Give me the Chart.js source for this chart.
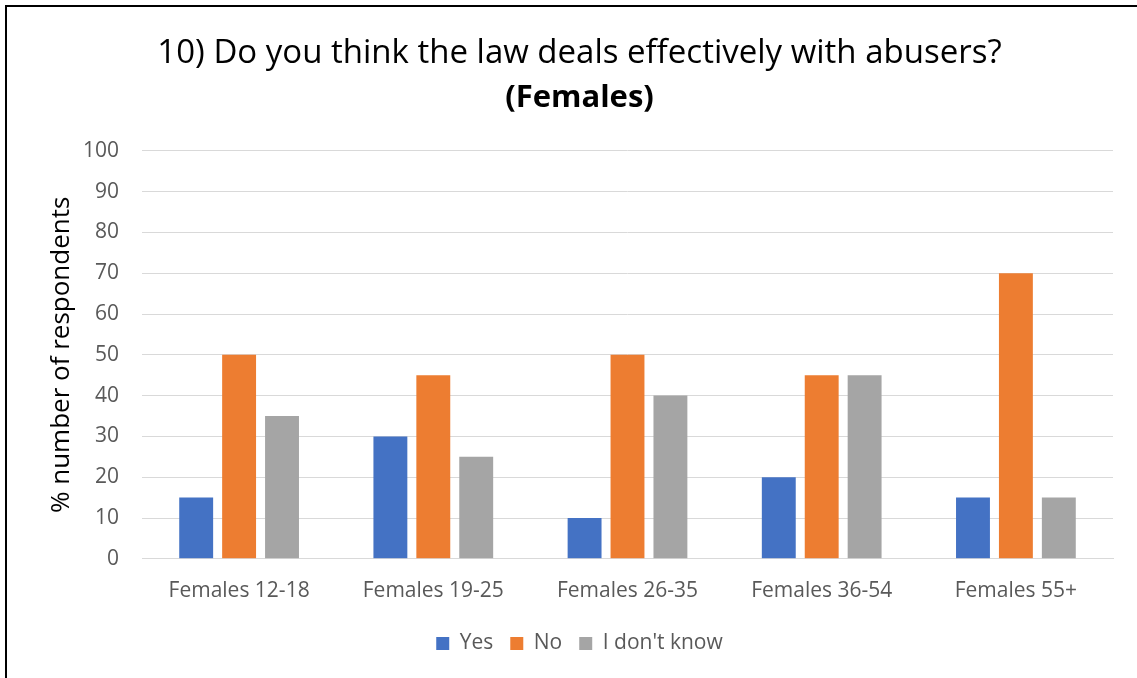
<!DOCTYPE html>
<html>
<head>
<meta charset="utf-8">
<script src="https://cdn.jsdelivr.net/npm/chart.js@4"></script>
<style>
html,body{margin:0;padding:0;background:#fff;}
#wrap{position:relative;width:1137px;height:678px;overflow:hidden;}
#frame{position:absolute;left:5px;top:5px;width:1200px;height:800px;border-left:2px solid #000;border-top:2px solid #000;box-sizing:border-box;pointer-events:none;}
canvas{position:absolute;left:0;top:0;}
</style>
</head>
<body>
<div id="wrap">
<canvas id="c" width="1137" height="678"></canvas>
<div id="frame"></div>
</div>
<script>
const categories = ["Females 12-18","Females 19-25","Females 26-35","Females 36-54","Females 55+"];
const yesValues = [15,30,10,20,15];
const noValues = [50,45,50,45,70];
const dontKnowValues = [35,25,40,45,15];
const titleLine = "10) Do you think the law deals effectively with abusers?";
const subtitleLine = "(Females)";
const yAxisTitle = "% number of respondents";

const FONT = "'Open Sans', sans-serif";
new Chart(document.getElementById('c'), {
  type: 'bar',
  data: {
    labels: categories,
    datasets: [
      {label:'Yes', data: yesValues, backgroundColor:'#4472C4'},
      {label:'No', data: noValues, backgroundColor:'#ED7D31'},
      {label:"I don't know", data: dontKnowValues, backgroundColor:'#A5A5A5'}
    ]
  },
  options: {
    responsive:false,
    animation:false,
    devicePixelRatio:1,
    categoryPercentage:0.663,
    barPercentage:0.79,
    layout:{padding:{left:46,right:24,top:34,bottom:14}},
    plugins:{
      title:{display:true,text:titleLine,color:'#000',font:{family:FONT,size:33,weight:'normal'},padding:{top:0,bottom:6}},
      subtitle:{display:true,text:subtitleLine,color:'#000',font:{family:FONT,size:31,weight:'bold'},padding:{top:0,bottom:34}},
      legend:{position:'bottom',labels:{boxWidth:13,boxHeight:13,color:'#595959',font:{family:FONT,size:21},padding:17}},
      tooltip:{enabled:false}
    },
    scales:{
      x:{grid:{display:false},border:{color:'#D9D9D9'},ticks:{color:'#595959',font:{family:FONT,size:21},padding:12}},
      y:{min:0,max:100,ticks:{stepSize:10,color:'#595959',font:{family:FONT,size:21},padding:23},
         grid:{color:'#D9D9D9',drawTicks:false},border:{display:false},
         title:{display:true,text:yAxisTitle,color:'#000',font:{family:FONT,size:26},padding:0},
         afterFit:(s)=>{s.width=96;}}
    }
  }
});
</script>
</body>
</html>
